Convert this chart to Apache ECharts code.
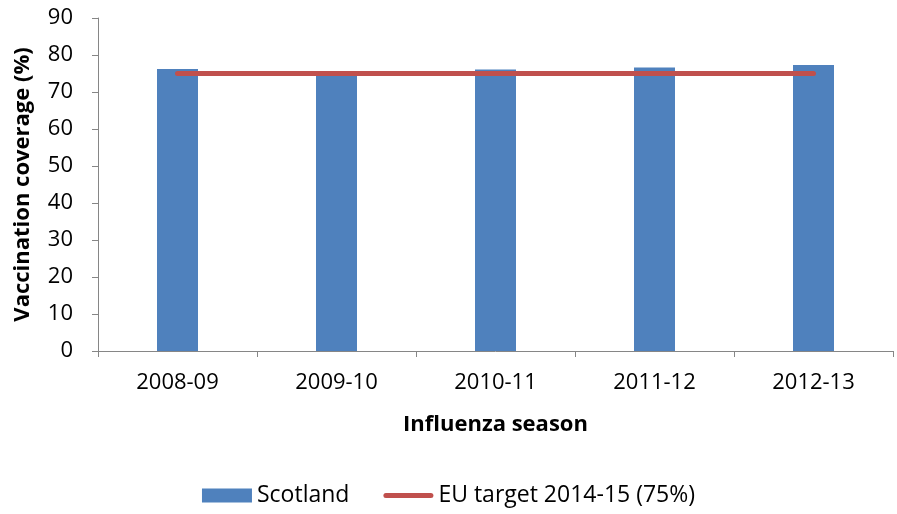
<!DOCTYPE html>
<html>
<head>
<meta charset="utf-8">
<script src="https://cdn.jsdelivr.net/npm/echarts@6/dist/echarts.min.js"></script>
<style>
  html, body { margin: 0; padding: 0; background: #fff; }
  #chart { width: 897px; height: 514px; }
</style>
</head>
<body>
<div id="chart"></div>
<script>
const seasons = ['2008-09', '2009-10', '2010-11', '2011-12', '2012-13'];
const scotland = [76.2, 75.3, 76.1, 76.6, 77.3];
const euTarget = [75, 75, 75, 75, 75];

const chart = echarts.init(document.getElementById('chart'), null, { renderer: 'canvas' });
const font = 'Open Sans, sans-serif';

// legend icon for the target line: a thin bar with round ends
const lineIcon = 'path://M2.5,0 L47.5,0 A2.5,2.5 0 0 1 47.5,5 L2.5,5 A2.5,2.5 0 0 1 2.5,0 Z';

chart.setOption({
  backgroundColor: '#fff',
  animation: false,
  textStyle: { fontFamily: font, color: '#000' },
  grid: { left: 98, right: 4, top: 18, bottom: 163 },
  legend: {
    bottom: 2,
    left: 'center',
    itemWidth: 50,
    itemHeight: 14,
    itemGap: 34,
    textStyle: { fontFamily: font, fontSize: 23, color: '#000' },
    data: [
      { name: 'Scotland', icon: 'rect' },
      { name: 'EU target 2014-15 (75%)', icon: lineIcon, itemStyle: { color: '#c0504d' } }
    ]
  },
  xAxis: {
    type: 'category',
    data: seasons,
    name: 'Influenza season',
    nameLocation: 'middle',
    nameGap: 63,
    nameTextStyle: { fontFamily: font, fontSize: 22, fontWeight: 'bold', color: '#000' },
    axisLine: { lineStyle: { color: '#868686', width: 1 } },
    axisTick: { show: true, length: 6, lineStyle: { color: '#868686' } },
    axisLabel: { fontFamily: font, fontSize: 22, color: '#000', margin: 21 },
    splitLine: { show: false }
  },
  yAxis: {
    type: 'value',
    min: 0,
    max: 90,
    interval: 10,
    name: 'Vaccination coverage (%)',
    nameLocation: 'middle',
    nameGap: 64,
    nameTextStyle: { fontFamily: font, fontSize: 22, fontWeight: 'bold', color: '#000' },
    axisLine: { show: true, lineStyle: { color: '#868686', width: 1 } },
    axisTick: { show: true, length: 6, lineStyle: { color: '#868686' } },
    axisLabel: { fontFamily: font, fontSize: 22, color: '#000', margin: 25 },
    splitLine: { show: false }
  },
  series: [
    {
      name: 'Scotland',
      type: 'bar',
      data: scotland,
      barWidth: 41,
      itemStyle: { color: '#4f81bd' }
    },
    {
      name: 'EU target 2014-15 (75%)',
      type: 'line',
      data: euTarget,
      symbol: 'none',
      color: '#c0504d',
      lineStyle: { color: '#c0504d', width: 5, cap: 'round' }
    }
  ]
});
</script>
</body>
</html>
